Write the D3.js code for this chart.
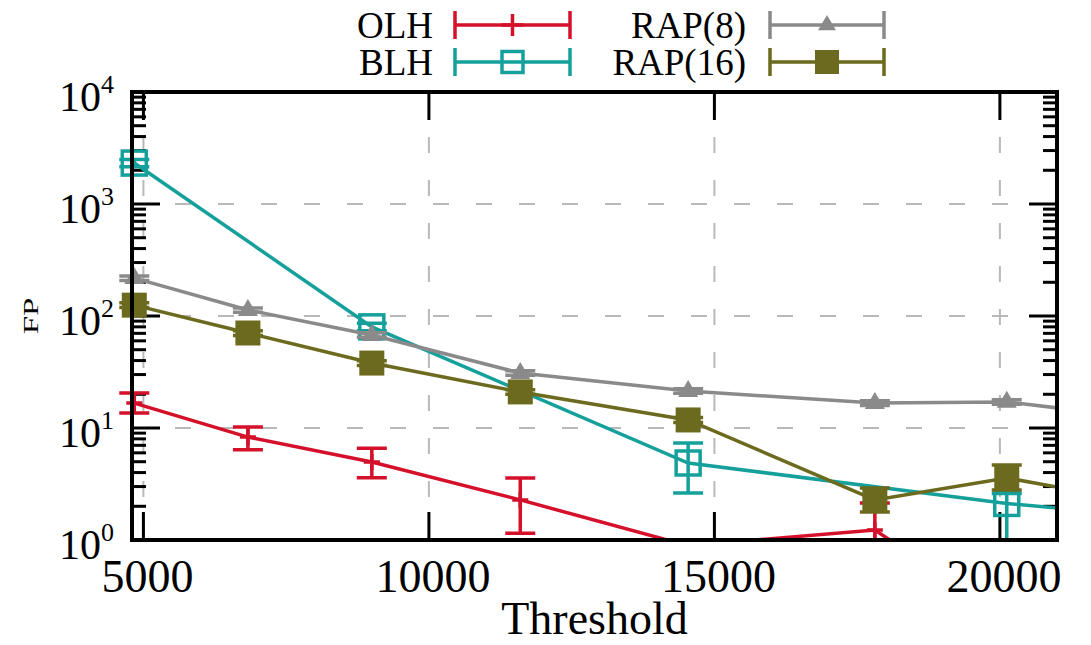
<!DOCTYPE html>
<html>
<head>
<meta charset="utf-8">
<script src="https://cdn.jsdelivr.net/npm/d3@7"></script>
<style>
  html, body { margin: 0; padding: 0; background: #fff; }
  svg { display: block; font-family: "Liberation Serif", "DejaVu Serif", serif; }
</style>
</head>
<body>
<svg id="chart" width="1091" height="645"></svg>
<script>
// thresholds (the last one sits past the right edge, only its line shows)
const thresholds = [4840, 6830, 9000, 11600, 14540, 17810, 20120, 22600];

const olh   = [16.7, 8.3, 4.97, 2.28, 0.89, 1.23, 0.2, 0.1];
const olhLo = [13.6, 6.4, 3.6, 1.15, 0.6, 0.5, 0.1, 0.05];
const olhHi = [20.5, 10.2, 6.6, 3.58, 0.98, 2.14, 0.4, 0.2];

const blh   = [2320, null, 80, null, 4.87, null, 2.12, 1.63];
const blhLo = [2150, null, 74, null, 2.63, null, 0.5, 1.5];
const blhHi = [2500, null, 86, null, 7.35, null, 2.6, 1.8];

const rap8   = [218, 113, 67.7, 31, 21.4, 16.7, 17.1, 12.1];
const rap8Lo = [208, 108, 64.5, 29.6, 20.4, 15.9, 16.3, 11.5];
const rap8Hi = [228, 118, 71, 32.5, 22.4, 17.5, 17.9, 12.7];

const rap16   = [125, 70.5, 38, 21, 11.8, 2.28, 3.58, 2.12];
const rap16Lo = [119, 67, 36.2, 20, 11.2, 1.78, 2.8, 2.0];
const rap16Hi = [131, 74, 39.8, 22, 12.4, 2.91, 4.67, 2.25];

const xTicks = [5000, 10000, 15000, 20000];
const yTicks = [1, 10, 100, 1000, 10000];

const series = [
  { name: "OLH", color: "#d4102a", marker: "plus", v: olh, lo: olhLo, hi: olhHi },
  { name: "BLH", color: "#16a09c", marker: "osquare", v: blh, lo: blhLo, hi: blhHi },
  { name: "RAP(8)", color: "#8a8a8a", marker: "triangle", v: rap8, lo: rap8Lo, hi: rap8Hi },
  { name: "RAP(16)", color: "#6b6a1e", marker: "fsquare", v: rap16, lo: rap16Lo, hi: rap16Hi }
];

const L = 132, R = 1057, T = 92, B = 540;
const svg = d3.select("#chart");

const x = d3.scaleLinear().domain([4800, 21000]).range([L, R]);
const y = d3.scaleLog().domain([1, 10000]).range([B, T]);

svg.append("defs").append("clipPath").attr("id", "plotclip")
  .append("rect").attr("x", L).attr("y", T).attr("width", R - L).attr("height", B - T);
svg.select("defs").append("clipPath").attr("id", "vclip")
  .append("rect").attr("x", 0).attr("y", T).attr("width", 1091).attr("height", B - T);

// grid
const grid = svg.append("g").attr("stroke", "#b9b9b9").attr("stroke-width", 2).attr("stroke-dasharray", "16,27");
yTicks.slice(1, -1).forEach(t => {
  grid.append("line").attr("x1", L).attr("x2", R).attr("y1", y(t)).attr("y2", y(t));
});
xTicks.forEach(t => {
  grid.append("line").attr("x1", x(t)).attr("x2", x(t)).attr("y1", B).attr("y2", T);
});

// ticks
const ticks = svg.append("g").attr("stroke", "#000").attr("stroke-width", 3);
for (let d = 0; d < 4; d++) {
  for (let m = 1; m <= 9; m++) {
    const v = Math.pow(10, d) * m;
    const len = m === 1 ? 28 : 14;
    ticks.append("line").attr("x1", L).attr("x2", L + len).attr("y1", y(v)).attr("y2", y(v));
    ticks.append("line").attr("x1", R).attr("x2", R - len).attr("y1", y(v)).attr("y2", y(v));
  }
}
xTicks.forEach(t => {
  ticks.append("line").attr("x1", x(t)).attr("x2", x(t)).attr("y1", B).attr("y2", B - 28);
  ticks.append("line").attr("x1", x(t)).attr("x2", x(t)).attr("y1", T).attr("y2", T + 28);
});

// series
function drawMarker(g, type, cx, cy, color, s) {
  if (type === "plus") {
    g.append("path").attr("d", `M${cx - s / 2},${cy}H${cx + s / 2}M${cx},${cy - s / 2}V${cy + s / 2}`)
      .attr("stroke", color).attr("stroke-width", 3.5).attr("fill", "none");
  } else if (type === "osquare") {
    g.append("rect").attr("x", cx - s / 2).attr("y", cy - s / 2).attr("width", s).attr("height", s)
      .attr("fill", "none").attr("stroke", color).attr("stroke-width", 3.5);
  } else if (type === "fsquare") {
    g.append("rect").attr("x", cx - s / 2).attr("y", cy - s / 2).attr("width", s).attr("height", s)
      .attr("fill", color);
  } else if (type === "triangle") {
    const h = s * 0.85;
    g.append("path").attr("d", `M${cx},${cy - h * 0.65}L${cx + s / 2},${cy + h * 0.35}L${cx - s / 2},${cy + h * 0.35}Z`)
      .attr("fill", color);
  }
}

const markerSize = { plus: 16, osquare: 24, fsquare: 25, triangle: 20 };
const line = d3.line().x(d => x(d.t)).y(d => y(d.v));

series.forEach(s => {
  const pts = thresholds.map((t, i) => ({ t, v: s.v[i], lo: s.lo[i], hi: s.hi[i] }))
    .filter(d => d.v != null);
  const g = svg.append("g");

  g.append("path").datum(pts).attr("d", line)
    .attr("fill", "none").attr("stroke", s.color).attr("stroke-width", 3.5)
    .attr("clip-path", "url(#plotclip)");

  const eb = g.append("g").attr("clip-path", "url(#vclip)")
    .attr("stroke", s.color).attr("stroke-width", 3.5).attr("fill", "none");
  pts.filter(d => d.t <= 21000).forEach(d => {
    const cx = x(d.t), y1 = y(d.lo), y2 = y(d.hi);
    eb.append("path").attr("d", `M${cx},${y1}V${y2}M${cx - 15},${y1}H${cx + 15}M${cx - 15},${y2}H${cx + 15}`);
  });

  pts.filter(d => d.t <= 21000 && d.v >= 1).forEach(d => {
    drawMarker(g, s.marker, x(d.t), y(d.v), s.color, markerSize[s.marker]);
  });
});

// frame
svg.append("rect").attr("x", L).attr("y", T).attr("width", R - L).attr("height", B - T)
  .attr("fill", "none").attr("stroke", "#000").attr("stroke-width", 4);

// tick labels
yTicks.forEach((t, i) => {
  const ty = y(t);
  svg.append("text").attr("x", 101).attr("y", ty + 19).attr("text-anchor", "end")
    .style("font-size", "42px").text("10");
  svg.append("text").attr("x", 101).attr("y", ty + 1).attr("text-anchor", "start")
    .style("font-size", "26px").text(String(i));
});
xTicks.forEach(t => {
  svg.append("text").attr("x", x(t) + 4).attr("y", 592).attr("text-anchor", "middle")
    .style("font-size", "46px").text(t);
});

// axis titles
svg.append("text").attr("x", (L + R) / 2).attr("y", 634).attr("text-anchor", "middle")
  .style("font-size", "46px").text("Threshold");
svg.append("text").attr("transform", "translate(38,316) rotate(-90) scale(1.5,1)").attr("text-anchor", "middle")
  .style("font-size", "22px").text("FP");

// legend
const legendPos = [
  { tx: 433, x1: 455, x2: 570, cy: 25 },
  { tx: 433, x1: 455, x2: 570, cy: 62 },
  { tx: 746, x1: 770, x2: 884, cy: 25 },
  { tx: 746, x1: 770, x2: 884, cy: 62 }
];
const legendSize = { plus: 22, osquare: 21, fsquare: 24, triangle: 18 };
series.forEach((s, i) => {
  const p = legendPos[i];
  const g = svg.append("g");
  g.append("text").attr("x", p.tx).attr("y", p.cy + 13).attr("text-anchor", "end")
    .style("font-size", "37px").text(s.name);
  g.append("path").attr("d", `M${p.x1},${p.cy}H${p.x2}M${p.x1},${p.cy - 14}V${p.cy + 14}M${p.x2},${p.cy - 14}V${p.cy + 14}`)
    .attr("stroke", s.color).attr("stroke-width", 3.5).attr("fill", "none");
  drawMarker(g, s.marker, (p.x1 + p.x2) / 2, p.cy, s.color, legendSize[s.marker]);
});
</script>
</body>
</html>
